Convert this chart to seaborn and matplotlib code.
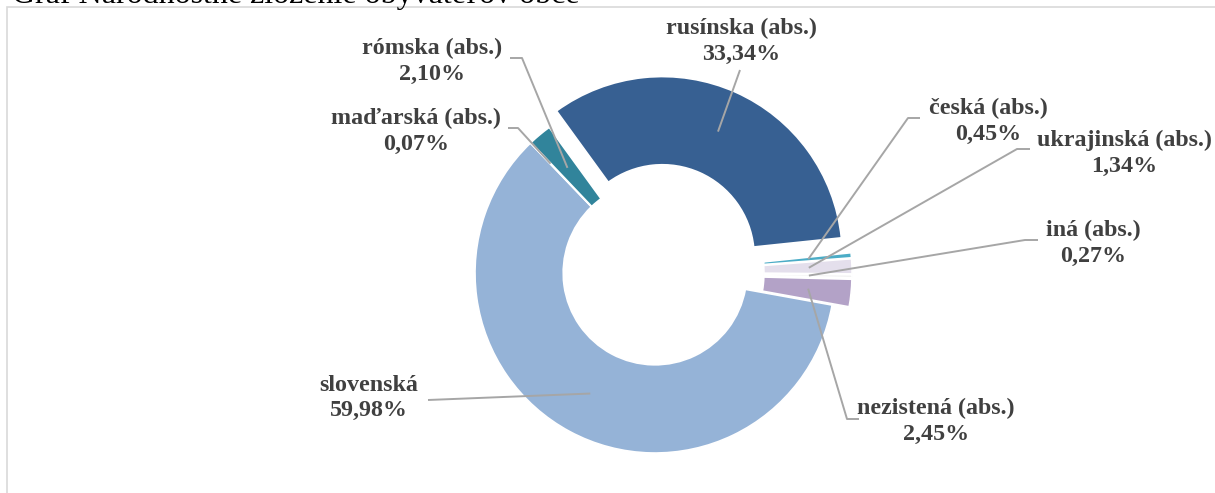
import numpy as np
import seaborn as sns
import matplotlib.pyplot as plt

# share of nationalities
names = ["rusínska (abs.)", "česká (abs.)", "ukrajinská (abs.)", "iná (abs.)",
         "nezistená (abs.)", "slovenská", "maďarská (abs.)", "rómska (abs.)"]
values = [33.34, 0.45, 1.34, 0.27, 2.45, 59.98, 0.07, 2.10]
colors = ["#376092", "#4BACC6", "#E4DFEC", "#F2F2F2",
          "#B3A2C7", "#95B3D7", "#DBEEF4", "#31849B"]
explode = [0.1, 0.095, 0.095, 0.095, 0.095, 0, 0, 0]

title = "Graf Národnostné zloženie obyvateľov obce"

sns.set_theme(style="white")
plt.rcParams['font.family'] = ['Liberation Serif', 'DejaVu Serif']

W, H = 1215, 493
CX, CY, R = 655, 273, 180


def px(x, y):
    # figure pixel (from top-left) -> data coords
    return (x - CX) / R, (CY - y) / R


fig = plt.figure(figsize=(W / 100, H / 100), dpi=100)
ax = fig.add_axes([0, 0, 1, 1])
wedges, _ = ax.pie(values, startangle=126, counterclock=False, explode=explode,
                   colors=colors, radius=1,
                   wedgeprops=dict(width=0.49, edgecolor="white", linewidth=1.2))
ax.set_xlim(px(0, 0)[0], px(W, 0)[0])
ax.set_ylim(px(0, H)[1], px(0, 0)[1])
ax.set_aspect("auto")
ax.axis("off")

# label layout (pixels): text centre, leader start points, tip radius
label_pos = [(741, 41), (988, 121), (1124, 153), (1093, 243),
             (936, 421), (369, 398), (416, 131), (432, 61)]
leader_pts = [[(740, 70)],
              [(920, 118), (908, 118)],
              [(1030, 149), (1017, 149)],
              [(1038, 240), (1025, 240)],
              [(859, 419), (847, 419)],
              [(428, 400)],
              [(508, 128), (518, 128)],
              [(510, 58), (522, 58)]]
tip_r = [0.76, 0.76, 0.76, 0.76, 0.76, 0.76, 0.84, 0.76]

for w, name, v, pos, pts, tr in zip(wedges, names, values, label_pos, leader_pts, tip_r):
    mid = np.deg2rad((w.theta1 + w.theta2) / 2)
    cx, cy = w.center
    tip = (cx + tr * np.cos(mid), cy + tr * np.sin(mid))
    line = [px(*p) for p in pts] + [tip]
    xs, ys = zip(*line)
    ax.plot(xs, ys, color="#A6A6A6", lw=1.4, solid_capstyle="butt")
    pct = f"{v:.2f}%".replace(".", ",")
    tx, ty = px(*pos)
    ax.text(tx, ty, f"{name}\n{pct}", ha="center", va="center", fontsize=17.3,
            fontweight="bold", color="#404040", linespacing=1.3)

# chart frame, cut by the image edges
fig.add_artist(plt.Rectangle((7 / W, -0.1), 2, 1 - 7 / H + 0.1, transform=fig.transFigure,
                             fill=False, edgecolor="#D9D9D9", lw=1.2))
fig.text(12 / W, 1 - 2.5 / H, title, ha="left", va="baseline", fontsize=23, color="black")

fig.savefig("out.png", dpi=100)
